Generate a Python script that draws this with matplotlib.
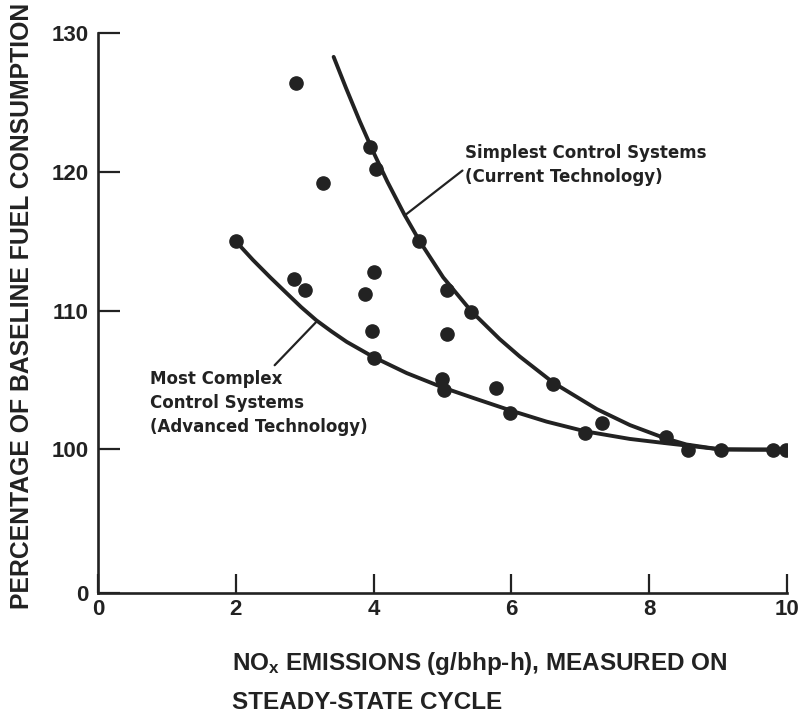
import numpy as np
import matplotlib
matplotlib.use("Agg")
import matplotlib.pyplot as plt

# ---------------- data ----------------
x_ticks = [0, 2, 4, 6, 8, 10]
x_tick_labels = ["0", "2", "4", "6", "8", "10"]
y_ticks = [0, 100, 110, 120, 130]
y_tick_labels = ["0", "100", "110", "120", "130"]

# observed data points
pts_x = [2.00, 2.88, 3.27, 2.85, 3.01, 4.00, 3.87, 3.97, 4.00, 3.95, 4.04, 4.66,
         5.06, 5.41, 5.06, 4.99, 5.02, 5.77, 5.98, 6.61, 7.07, 7.31, 8.24, 8.57,
         9.04, 9.79, 9.99]
pts_y = [115.0, 126.4, 119.2, 112.3, 111.5, 112.8, 111.2, 108.5, 106.6, 121.8, 120.2, 115.0,
         111.5, 109.9, 108.3, 105.1, 104.3, 104.4, 102.65, 104.7, 101.2, 101.9, 100.9, 99.8,
         99.85, 99.8, 99.85]

# fitted curve: simplest control systems (current technology)
simple_x = [3.42, 3.60, 3.80, 4.00, 4.20, 4.45, 4.67, 5.01, 5.42, 5.83, 6.12, 6.61,
            7.24, 7.72, 8.23, 8.54, 9.03, 9.50, 10.0]
simple_y = [128.3, 126.05, 123.65, 121.4, 119.3, 116.9, 115.0, 112.4, 109.95, 107.95, 106.7, 104.8,
            102.9, 101.75, 100.8, 100.35, 99.95, 99.8, 99.85]

# fitted curve: most complex control systems (advanced technology)
complex_x = [2.00, 2.25, 2.50, 2.74, 2.95, 3.17, 3.39, 3.61, 4.00, 4.48, 5.01, 5.45,
             5.99, 6.51, 7.07, 7.72, 8.23, 9.03, 9.80, 10.0]
complex_y = [115.0, 113.65, 112.4, 111.25, 110.25, 109.3, 108.5, 107.75, 106.65, 105.5, 104.45, 103.7,
             102.8, 102.0, 101.3, 100.75, 100.45, 100.0, 99.8, 99.85]

label_simple = "Simplest Control Systems\n(Current Technology)"
label_complex = "Most Complex\nControl Systems\n(Advanced Technology)"
xlabel = r"NO$_{x}$ EMISSIONS (g/bhp-h), MEASURED ON" + "\nSTEADY-STATE CYCLE"
ylabel = "PERCENTAGE OF BASELINE FUEL CONSUMPTION"

# ---------------- style ----------------
ink = "#222222"
plt.rcParams.update({
    "mathtext.default": "regular",
    "font.family": ["Liberation Sans", "DejaVu Sans"],
    "font.weight": "bold",
    "xtick.labelsize": 16,
    "ytick.labelsize": 16,
    "xtick.color": ink,
    "ytick.color": ink,
})

fig = plt.figure(figsize=(8.04, 7.17), dpi=100)
ax = fig.add_axes([98 / 804, 1 - 593.3 / 717, (787 - 98) / 804, (593.3 - 33.3) / 717])

# broken-style y axis: 0..100 compressed
k = 10.38 / 100.0
def fwd(y):
    y = np.asarray(y, dtype=float)
    return np.where(y >= 100, y, 100 - (100 - y) * k)
def inv(v):
    v = np.asarray(v, dtype=float)
    return np.where(v >= 100, v, 100 - (100 - v) / k)
ax.set_yscale("function", functions=(fwd, inv))

ax.plot(simple_x, simple_y, color=ink, lw=2.8, solid_joinstyle="round", solid_capstyle="round")
ax.plot(complex_x, complex_y, color=ink, lw=2.8, solid_joinstyle="round", solid_capstyle="round")
ax.plot(pts_x, pts_y, "o", color=ink, ms=9.5, mec=ink)

ax.set_xlim(0, 10)
ax.set_ylim(0, 130)
ax.set_xticks(x_ticks)
ax.set_xticklabels(x_tick_labels)
ax.set_yticks(y_ticks)
ax.set_yticklabels(y_tick_labels)
ax.yaxis.set_minor_locator(matplotlib.ticker.NullLocator())

for s in ["top", "right"]:
    ax.spines[s].set_visible(False)
for s in ["left", "bottom"]:
    ax.spines[s].set_linewidth(1.9)
    ax.spines[s].set_color(ink)

ax.tick_params(axis="y", direction="in", length=16, width=1.6, pad=7)
ax.tick_params(axis="x", direction="in", length=14, width=1.6, pad=4)

# annotations
ax.annotate(label_simple, xy=(4.46, 116.9), xytext=(5.33, 120.5),
            ha="left", va="center", fontsize=12, fontweight="bold",
            family="DejaVu Sans", color=ink, linespacing=1.42,
            arrowprops=dict(arrowstyle="-", color=ink, lw=1.6, shrinkA=0, shrinkB=0,
                            relpos=(0.0, 0.42)))
ax.annotate(label_complex, xy=(3.17, 109.2), xytext=(0.76, 103.35),
            ha="left", va="center", fontsize=12, fontweight="bold",
            family="DejaVu Sans", color=ink, linespacing=1.42,
            arrowprops=dict(arrowstyle="-", color=ink, lw=1.6, shrinkA=2, shrinkB=0,
                            relpos=(0.55, 1.0)))

fig.text(22 / 804, 1 - 306 / 717, ylabel, rotation=90, ha="center", va="center",
         fontweight="bold", fontsize=17.8, color=ink)
fig.text(232 / 804, 1 - 650 / 717, xlabel, ha="left", va="top",
         fontweight="bold", fontsize=17.5, color=ink, linespacing=1.8)

fig.savefig("out.png", dpi=100, facecolor="white")
